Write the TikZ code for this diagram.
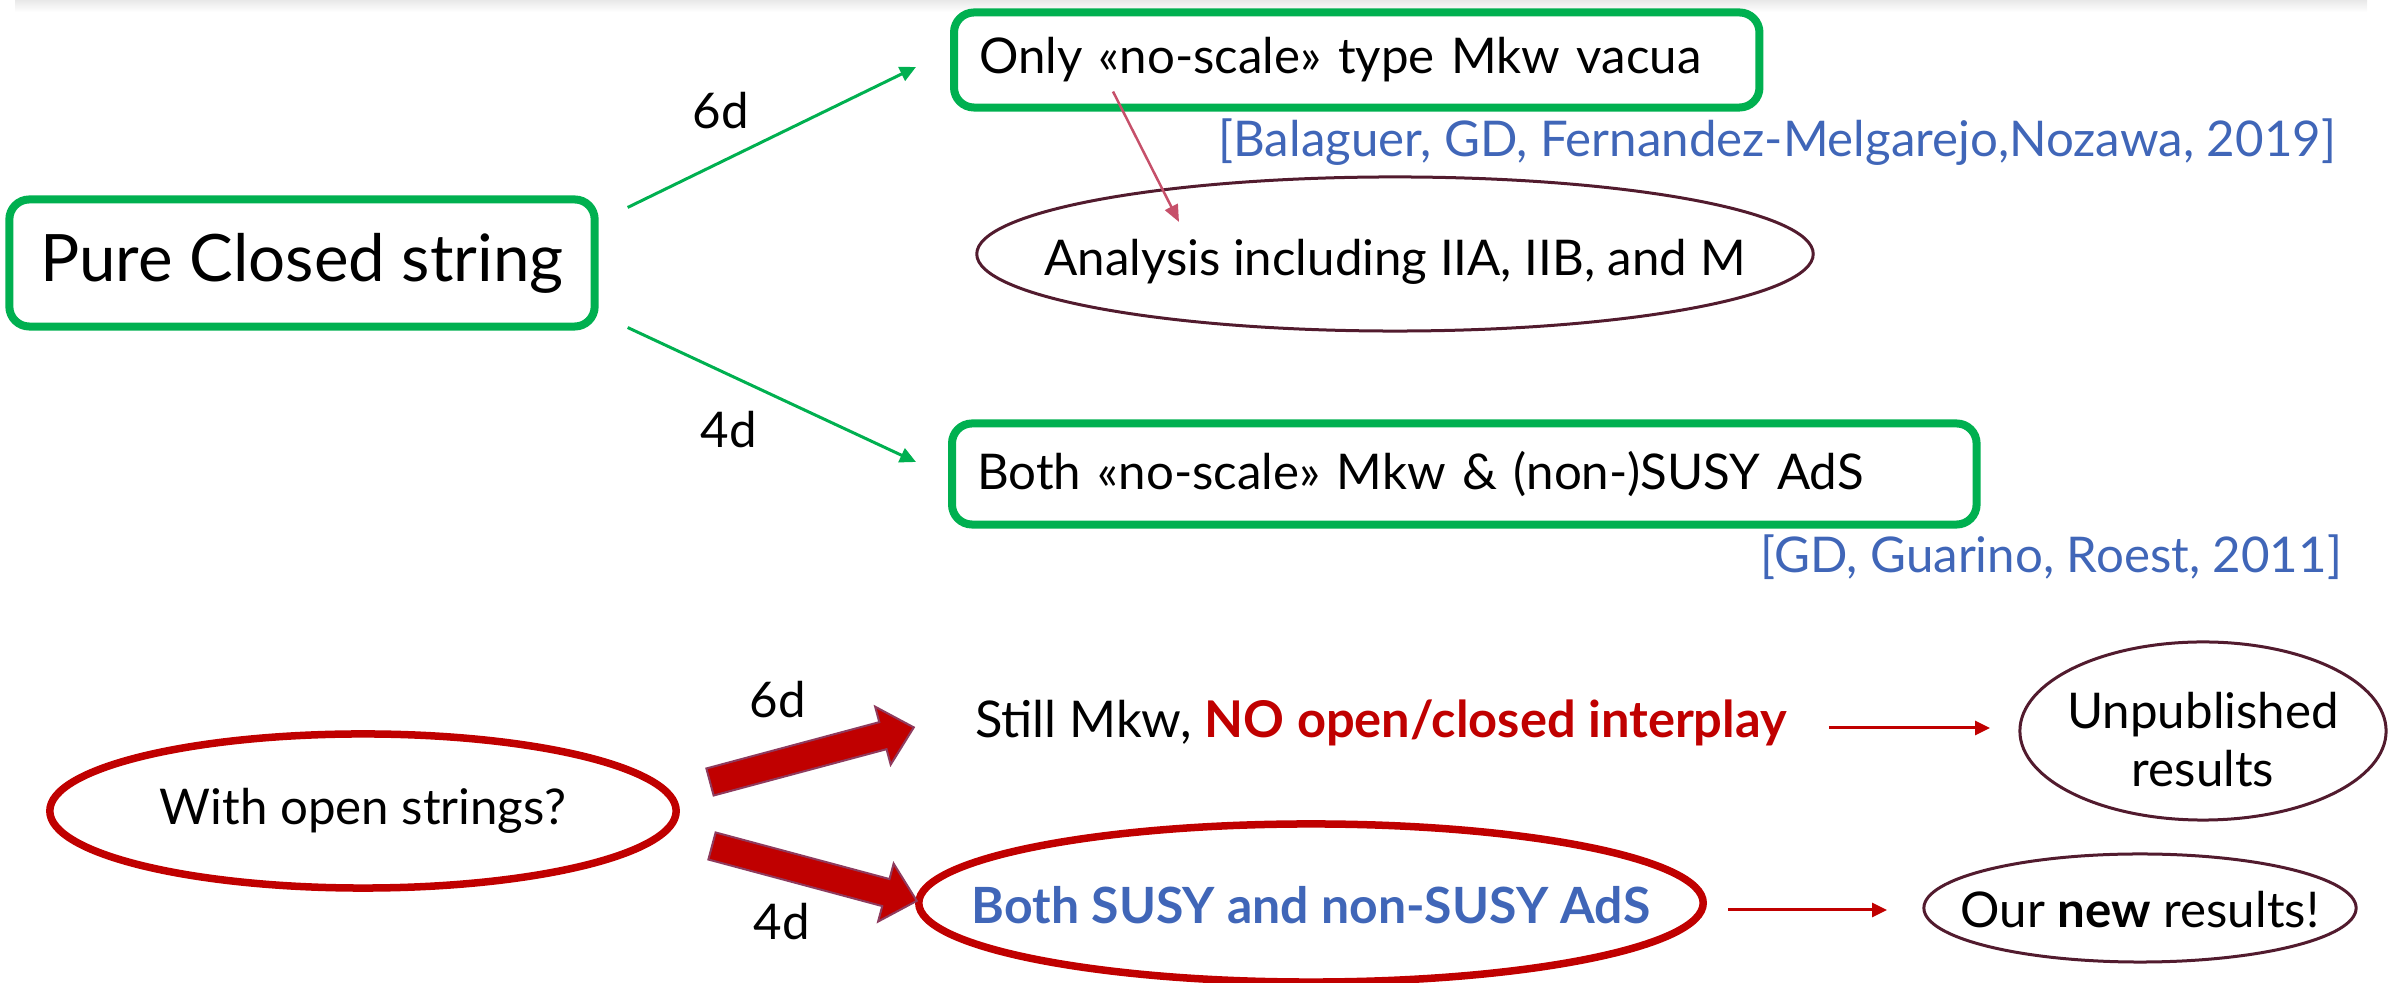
\documentclass[tikz,border=0pt]{standalone}
\usepackage{fontspec}
\setmainfont{Lato}
\usetikzlibrary{arrows.meta,calc}

\definecolor{boxgreen}{HTML}{00B050}
\definecolor{citeblue}{HTML}{4066B8}
\definecolor{darkred}{HTML}{C00000}
\definecolor{rimred}{HTML}{521B2E}
\definecolor{linkpink}{HTML}{C6506A}
\definecolor{fatrim}{HTML}{8E3B5E}

% fat block arrow: start point, angle, length (in px units)
\newcommand{\fatarrow}[3]{%
  \draw[fill=darkred, draw=fatrim, line width=0.02cm, shift={(#1)}, rotate=#2]
    (0,-14) -- (#3-32,-14) -- (#3-32,-30) -- (#3,0) -- (#3-32,30) -- (#3-32,14) -- (0,14) -- cycle;}

\begin{document}
\begin{tikzpicture}
    [x=0.01cm,y=-0.01cm,
     every node/.style={inner sep=0pt, outer sep=0pt, font=\fontsize{14}{17}\selectfont},
     greenbox/.style={draw=boxgreen, line width=0.08cm, rounded corners=0.2cm, align=left, inner xsep=0.25cm},
     oval/.style={draw=rimred, line width=0.03cm},
     redoval/.style={draw=darkred, line width=0.075cm},
     cite/.style={text=citeblue, anchor=east},
     greenarrow/.style={draw=boxgreen, line width=0.03cm, -{Triangle[length=0.16cm,width=0.15cm]}},
     redarrow/.style={draw=darkred, line width=0.03cm, -{Triangle[length=0.15cm,width=0.14cm]}}]
    \useasboundingbox (0,0) rectangle (2402,983);
    \shade[top color=black!9, bottom color=white] (15,0) rectangle (2367,12);

    % closed string branch
    \node[greenbox, align=center, inner xsep=0pt, minimum width=5.85cm, minimum height=1.27cm,
          font=\fontsize{18.6}{22}\selectfont] (pure) at (302,263) {Pure Closed string};
    \node[greenbox, anchor=west, text width=7.55cm, minimum height=0.95cm] (only) at (954,60)
      {Only «no-scale» type Mkw vacua};
    \node[cite] (cite1) at (2336,142) {[Balaguer, GD, Fernandez-Melgarejo,Nozawa, 2019]};
    \coordinate (analysis) at (1395,254);
    \draw[oval] (analysis) ellipse [x radius=4.18cm, y radius=0.77cm];
    \node (analysistext) at (1395,262) {Analysis including IIA, IIB, and M};
    \node[greenbox, anchor=west, text width=9.74cm, minimum height=1.01cm] (both) at (952,474)
      {Both «no-scale» Mkw \& (non-)SUSY AdS};
    \node[cite] (cite2) at (2342,557) {[GD, Guarino, Roest, 2011]};
    \node (d6) at (721,111) {6d};
    \node (d4) at (729,430) {4d};

    \draw[greenarrow] ($(pure.north east)+(33,8)$) -- ($(only.west)+(-38,7)$);
    \draw[greenarrow] ($(pure.south east)+(33,1)$) -- ($(both.west)+(-36,-12)$);
    \draw[draw=linkpink, line width=0.025cm, -{Triangle[length=0.17cm,width=0.14cm]}]
      ($(only.south west)+(159,-16)$) -- ($(analysis)+(-216,-32)$);

    % open string branch
    \coordinate (open) at (363,811);
    \draw[redoval] (open) ellipse [x radius=3.13cm, y radius=0.77cm];
    \node (opentext) at (open) {With open strings?};
    \node[anchor=west, font=\fontsize{14.4}{17}\selectfont] (still) at (975,723)
      {Still Mkw, \textcolor{darkred}{\textbf{NO open/closed interplay}}};
    \coordinate (unpub) at (2203,731);
    \draw[oval] (unpub) ellipse [x radius=1.83cm, y radius=0.89cm];
    \node[align=center, font=\fontsize{14}{16.5}\selectfont] (unpubtext) at (2203,740) {Unpublished\\results};
    \coordinate (susy) at (1311,903);
    \draw[redoval] (susy) ellipse [x radius=3.92cm, y radius=0.79cm];
    \node[text=citeblue, font=\fontsize{14.2}{17}\selectfont\bfseries] (susytext) at (1311,905)
      {Both SUSY and non-SUSY AdS};
    \coordinate (ours) at (2140,908);
    \draw[oval] (ours) ellipse [x radius=2.16cm, y radius=0.54cm];
    \node (ourstext) at (2140,910) {Our \textbf{new} results!};
    \node (e6) at (778,700) {6d};
    \node (e4) at (782,922) {4d};

    \coordinate (t6) at (710,782);
    \coordinate (t4) at (712,846);
    \fatarrow{t6}{15}{211}
    \fatarrow{t4}{-15}{212}

    \draw[redarrow] ($(still.east)+(42,5)$) -- ($(unpub)+(-213,-3)$);
    \draw[redarrow] ($(susy)+(417,7)$) -- ($(ours)+(-253,2)$);
\end{tikzpicture}
\end{document}
